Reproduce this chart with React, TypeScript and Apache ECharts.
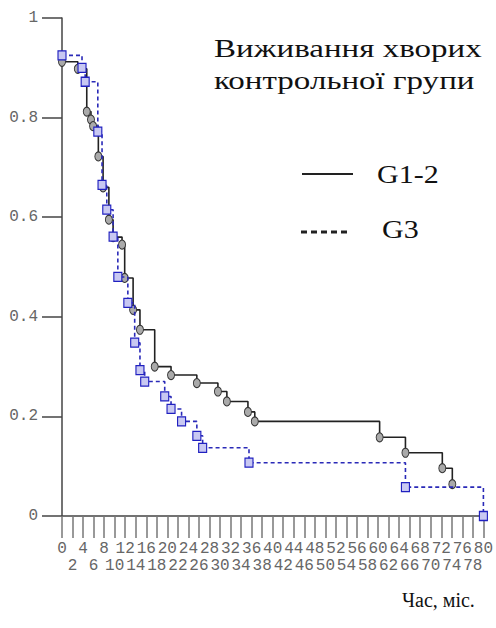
import React, { useEffect, useRef } from "react";
import * as echarts from "echarts";

const TIMES_G12 = [0, 3, 4.7, 5.5, 5.9, 6.9, 7.8, 8.9, 9.7, 11.4, 11.9, 13.5, 14.8, 17.6, 20.7, 25.6, 29.6, 31.3, 35.3, 36.6, 60.3, 65.2, 72.2, 74.1];
const SURV_G12 = [0.912, 0.898, 0.812, 0.796, 0.783, 0.722, 0.66, 0.595, 0.56, 0.545, 0.478, 0.414, 0.374, 0.3, 0.283, 0.267, 0.25, 0.23, 0.209, 0.19, 0.158, 0.127, 0.096, 0.064];

const TIMES_G3 = [0, 3.8, 4.4, 6.8, 7.6, 8.5, 9.7, 10.6, 12.5, 13.8, 14.8, 15.7, 19.5, 20.7, 22.7, 25.6, 26.7, 35.5, 65.2, 80];
const SURV_G3 = [0.925, 0.9, 0.872, 0.772, 0.665, 0.615, 0.561, 0.48, 0.428, 0.348, 0.293, 0.27, 0.24, 0.215, 0.19, 0.161, 0.137, 0.107, 0.058, 0];

const X_MIN = 0;
const X_MAX = 80;
const X_STEP = 2;
const Y_TICKS = [0, 0.2, 0.4, 0.6, 0.8, 1];

const TITLE_LINES = ["Виживання хворих", "контрольної групи"];
const LEGEND_NAMES = ["G1-2", "G3"];
const X_AXIS_NAME = "Час, міс.";

function buildData(times: number[], surv: number[]) {
  return times.map((t, i) => [t, surv[i]]);
}

export default function App() {
  const ref = useRef<HTMLDivElement>(null);
  useEffect(() => {
    const chart = echarts.init(ref.current!, null, { renderer: "svg" });
    const mono = "Liberation Mono";
    const labelBase = {
      fontFamily: mono,
      fontSize: 16,
      color: "#666",
      hideOverlap: false,
    };
    chart.setOption({
      animation: false,
      backgroundColor: "#fff",
      grid: { left: 62, right: 12, top: 18, bottom: 112 },
      xAxis: [
        {
          type: "value",
          min: X_MIN,
          max: X_MAX,
          interval: X_STEP,
          position: "bottom",
          axisLine: { lineStyle: { color: "#444", width: 1.5 } },
          axisTick: { length: 22, lineStyle: { color: "#777", width: 1.5 } },
          splitLine: { show: false },
          axisLabel: {
            ...labelBase,
            margin: 25,
            showMinLabel: true,
            showMaxLabel: true,
            formatter: (v: number) => (v % 4 === 0 ? String(v) : ""),
          },
        },
        {
          type: "value",
          min: X_MIN,
          max: X_MAX,
          interval: X_STEP,
          position: "bottom",
          axisLine: { show: false },
          axisTick: { show: false },
          splitLine: { show: false },
          axisLabel: {
            ...labelBase,
            margin: 42,
            showMinLabel: false,
            showMaxLabel: false,
            formatter: (v: number) => (v % 4 === 0 ? "" : String(v)),
          },
        },
      ],
      yAxis: {
        type: "value",
        min: Y_TICKS[0],
        max: Y_TICKS[Y_TICKS.length - 1],
        interval: 0.2,
        axisLine: { show: true, lineStyle: { color: "#444", width: 1.5 } },
        axisTick: { show: true, length: 20, lineStyle: { color: "#444", width: 1.5 } },
        splitLine: { show: false },
        axisLabel: {
          ...labelBase,
          margin: 24,
          formatter: (v: number) => (v === 0 ? "0" : v === 1 ? "1" : v.toFixed(1)),
        },
      },
      series: [
        {
          type: "line",
          name: LEGEND_NAMES[0],
          xAxisIndex: 0,
          step: "end",
          data: buildData(TIMES_G12, SURV_G12),
          symbol: "circle",
          symbolSize: [7, 9],
          showAllSymbol: true,
          lineStyle: { color: "#222", width: 1.6 },
          itemStyle: { color: "#aaa", borderColor: "#333", borderWidth: 1 },
          z: 3,
        },
        {
          type: "line",
          name: LEGEND_NAMES[1],
          xAxisIndex: 0,
          step: "end",
          data: buildData(TIMES_G3, SURV_G3),
          symbol: "rect",
          symbolSize: [8, 9],
          showAllSymbol: true,
          lineStyle: { color: "#2a2ab8", width: 1.6, type: [4, 3] },
          itemStyle: { color: "#c8c8f2", borderColor: "#2020c0", borderWidth: 1.2 },
          z: 4,
        },
      ],
      graphic: [
        {
          type: "text",
          x: 214,
          y: 35,
          scaleX: 1.27,
          style: { text: TITLE_LINES[0], font: "26px 'Liberation Serif'", fill: "#111", textVerticalAlign: "top" },
        },
        {
          type: "text",
          x: 214,
          y: 67,
          scaleX: 1.27,
          style: { text: TITLE_LINES[1], font: "26px 'Liberation Serif'", fill: "#111", textVerticalAlign: "top" },
        },
        {
          type: "line",
          shape: { x1: 302, y1: 174, x2: 353, y2: 174 },
          style: { stroke: "#222", lineWidth: 1.8 },
        },
        {
          type: "text",
          x: 377,
          y: 174,
          scaleX: 1.2,
          style: { text: LEGEND_NAMES[0], font: "25px 'Liberation Serif'", fill: "#111", textVerticalAlign: "middle" },
        },
        {
          type: "line",
          shape: { x1: 301, y1: 232, x2: 348, y2: 232 },
          style: { stroke: "#222", lineWidth: 3, lineDash: [6, 4] },
        },
        {
          type: "text",
          x: 382,
          y: 229,
          scaleX: 1.2,
          style: { text: LEGEND_NAMES[1], font: "25px 'Liberation Serif'", fill: "#111", textVerticalAlign: "middle" },
        },
        {
          type: "text",
          x: 402,
          y: 600,
          style: { text: X_AXIS_NAME, font: "20px 'Liberation Serif'", fill: "#111", textVerticalAlign: "middle" },
        },
      ],
    });
    return () => chart.dispose();
  }, []);
  return (
    <div
      ref={ref}
      style={{ position: "fixed", left: 0, top: 0, width: 496, height: 628, background: "#fff" }}
    />
  );
}
